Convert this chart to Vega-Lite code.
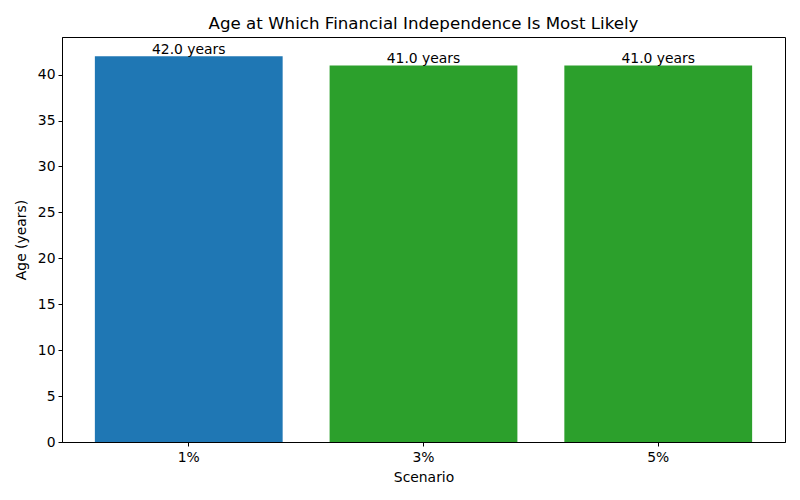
{
  "$schema": "https://vega.github.io/schema/vega-lite/v6.json",
  "width": 723,
  "height": 405,
  "autosize": {"type": "none"},
  "padding": {"left": 62, "top": 37, "right": 15, "bottom": 58},
  "config": {
    "font": "DejaVu Sans",
    "view": {"stroke": "black", "strokeWidth": 1},
    "axis": {
      "domainColor": "black",
      "tickColor": "black",
      "tickSize": 4,
      "labelColor": "black",
      "titleColor": "black",
      "labelFontSize": 13.9,
      "titleFontSize": 13.9,
      "titleFontWeight": "normal",
      "labelFont": "DejaVu Sans",
      "titleFont": "DejaVu Sans",
      "grid": false
    }
  },
  "title": {
    "text": "Age at Which Financial Independence Is Most Likely",
    "fontSize": 16.67,
    "fontWeight": "normal",
    "font": "DejaVu Sans",
    "color": "black",
    "anchor": "middle",
    "offset": 4
  },
  "data": {
    "values": [
      {"scenario": "1%", "age": 42.0, "label": "42.0 years"},
      {"scenario": "3%", "age": 41.0, "label": "41.0 years"},
      {"scenario": "5%", "age": 41.0, "label": "41.0 years"}
    ]
  },
  "encoding": {
    "x": {
      "field": "scenario",
      "type": "nominal",
      "title": "Scenario",
      "scale": {"paddingInner": 0.2, "paddingOuter": 0.14},
      "axis": {"labelAngle": 0, "labelPadding": 4, "titlePadding": 7}
    },
    "y": {
      "field": "age",
      "type": "quantitative",
      "title": "Age (years)",
      "scale": {"domain": [0, 44.1], "nice": false},
      "axis": {"values": [0, 5, 10, 15, 20, 25, 30, 35, 40], "labelPadding": 3, "titlePadding": 9}
    }
  },
  "layer": [
    {
      "mark": {"type": "bar"},
      "encoding": {
        "color": {
          "field": "scenario",
          "type": "nominal",
          "scale": {"domain": ["1%", "3%", "5%"], "range": ["#1f77b4", "#2ca02c", "#2ca02c"]},
          "legend": null
        }
      }
    },
    {
      "mark": {"type": "text", "baseline": "bottom", "dy": 1, "fontSize": 13.9, "color": "black", "font": "DejaVu Sans"},
      "encoding": {"text": {"field": "label"}}
    }
  ]
}
